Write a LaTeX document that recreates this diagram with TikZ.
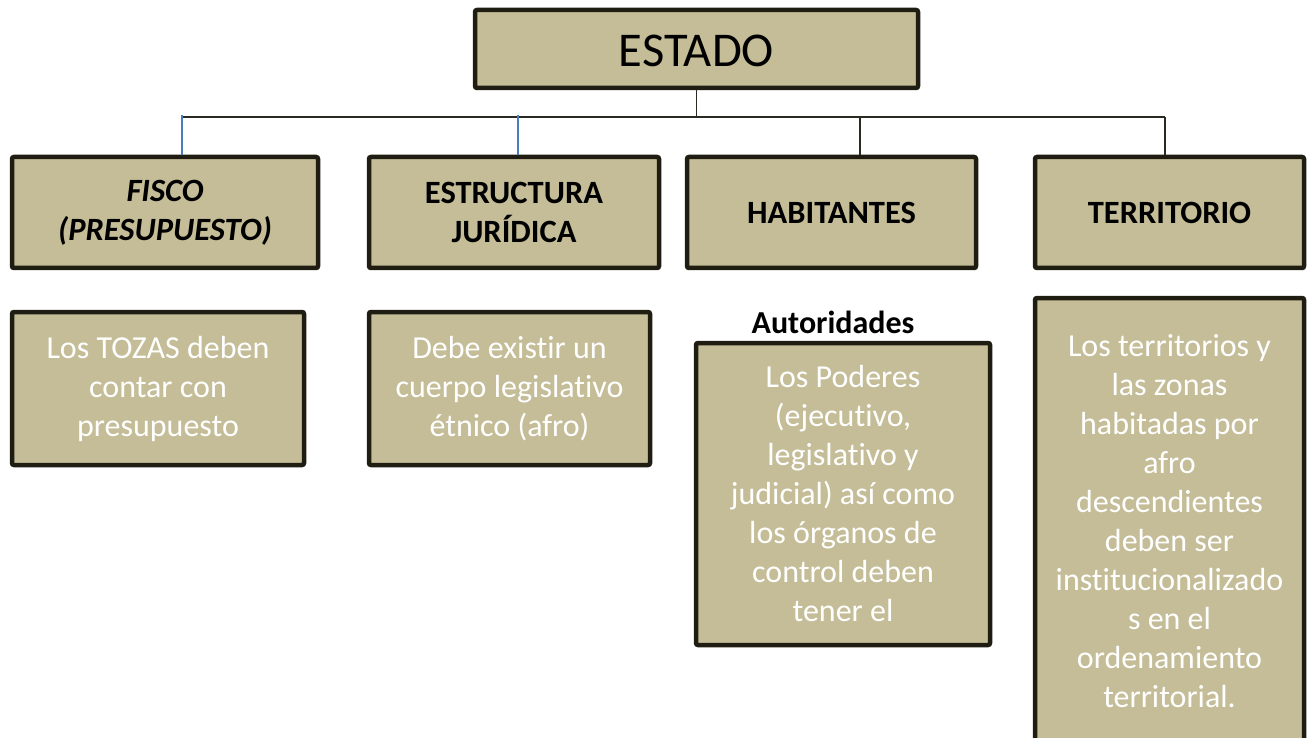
\documentclass[tikz,border=0pt]{standalone}
\usepackage{fontspec}
\setmainfont{Carlito}[Ligatures=NoCommon]
\definecolor{tanfill}{HTML}{C4BD97}
\definecolor{edgecol}{HTML}{1F1D12}
\definecolor{conncol}{HTML}{4A7EBB}
\definecolor{darkline}{HTML}{2A2A22}
\begin{document}
\begin{tikzpicture}[x=1pt,y=-1pt,
  box/.style={draw=edgecol, line width=4.5pt, fill=tanfill, rounded corners=2pt, inner sep=0pt, align=center, anchor=center},
  head/.style={font=\fontsize{32.5}{39}\selectfont\bfseries},
  body/.style={text=white, font=\fontsize{32}{39}\selectfont},
  darkconn/.style={draw=darkline, line width=1.4pt},
  blueconn/.style={draw=conncol, line width=1.3pt}]
\useasboundingbox (0,0) rectangle (1307,738);
\clip (0,0) rectangle (1307,738);
% top
\node[box, minimum width=443pt, minimum height=78pt, font=\fontsize{48.5}{52}\selectfont, text depth=2pt, text height=38pt] (estado) at (696.5,49) {ESTADO};
% second row
\node[box, head, minimum width=306pt, minimum height=111pt] (fisco) at (165,212.5) {\itshape FISCO\\\itshape (PRESUPUESTO)};
\node[box, head, minimum width=290pt, minimum height=111pt] (estr) at (514,212.5) {ESTRUCTURA\\JURÍDICA};
\node[box, head, minimum width=289pt, minimum height=111pt] (hab) at (831.5,212.5) {HABITANTES};
\node[box, head, minimum width=269pt, minimum height=111pt] (terr) at (1169.5,212.5) {TERRITORIO};
% third row
\node[box, body, minimum width=292pt, minimum height=153pt] (c1) at (158,388.5) {Los TOZAS deben\\contar con\\presupuesto};
\node[box, body, minimum width=281pt, minimum height=153pt] (c2) at (509.5,388.5) {Debe existir un\\cuerpo legislativo\\étnico (afro)};
\node[font=\fontsize{32}{36}\selectfont\bfseries] (aut) at (833,322) {Autoridades};
\node[box, body, minimum width=294pt, minimum height=302pt] (c3) at (843,494) {Los Poderes\\(ejecutivo,\\legislativo y\\judicial) así como\\los órganos de\\control deben\\tener el};
\node[box, body, minimum width=269pt, minimum height=446pt] (c4) at (1169.5,521) {Los territorios y\\las zonas\\habitadas por\\afro\\descendientes\\deben ser\\institucionalizado\\s en el\\ordenamiento\\territorial.};
% connectors
\coordinate (busL) at (182,117);
\coordinate (busB) at (518,117);
\coordinate (busC) at (860,117);
\coordinate (busR) at (1165,117);
\draw[darkconn] (estado.south) -- (estado.south |- busL);
\draw[darkconn] (busL) -- (busR);
\draw[blueconn] ([yshift=1.5pt]busL) -- (busL |- fisco.north);
\draw[blueconn] ([yshift=1.5pt]busB) -- (busB |- estr.north);
\draw[darkconn] (busC) -- (busC |- hab.north);
\draw[darkconn] (busR) -- (busR |- terr.north);
\end{tikzpicture}
\end{document}
